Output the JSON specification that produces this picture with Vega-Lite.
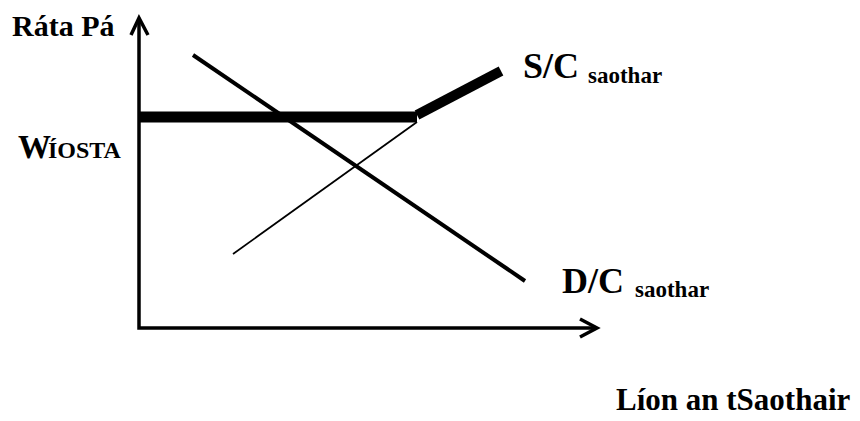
{
  "$schema": "https://vega.github.io/schema/vega-lite/v6.json",
  "width": 860,
  "height": 421,
  "padding": 0,
  "autosize": {"type": "none"},
  "background": "white",
  "config": {"view": {"stroke": null}},
  "datasets": {
    "segs": [
      {"seg": "axes", "kind": "axis", "o": 1, "x": 0, "y": 310},
      {"seg": "axes", "kind": "axis", "o": 2, "x": 0, "y": 0},
      {"seg": "axes", "kind": "axis", "o": 3, "x": 458, "y": 0},
      {"seg": "yarrow", "kind": "axis", "o": 1, "x": -8, "y": 293},
      {"seg": "yarrow", "kind": "axis", "o": 2, "x": 0, "y": 310},
      {"seg": "yarrow", "kind": "axis", "o": 3, "x": 9, "y": 293},
      {"seg": "xarrow", "kind": "axis", "o": 1, "x": 441, "y": 9},
      {"seg": "xarrow", "kind": "axis", "o": 2, "x": 458, "y": 0},
      {"seg": "xarrow", "kind": "axis", "o": 3, "x": 441, "y": -9},
      {"seg": "wmin", "kind": "min", "o": 1, "x": 0, "y": 211},
      {"seg": "wmin", "kind": "min", "o": 2, "x": 278, "y": 211},
      {"seg": "supplyThick", "kind": "supplyThick", "o": 1, "x": 278, "y": 213},
      {"seg": "supplyThick", "kind": "supplyThick", "o": 2, "x": 362, "y": 257},
      {"seg": "supplyThin", "kind": "supplyThin", "o": 1, "x": 94, "y": 74},
      {"seg": "supplyThin", "kind": "supplyThin", "o": 2, "x": 278, "y": 206},
      {"seg": "demand", "kind": "demand", "o": 1, "x": 54, "y": 273},
      {"seg": "demand", "kind": "demand", "o": 2, "x": 386, "y": 47}
    ],
    "labels": [
      {"text": "Ráta Pá", "role": "big", "x": -127, "y": 292},
      {"text": "W", "role": "w", "x": -121, "y": 170},
      {"text": "ÍOSTA", "role": "sub", "x": -91, "y": 170},
      {"text": "S/C", "role": "huge", "x": 384, "y": 250},
      {"text": "saothar", "role": "small", "x": 449, "y": 245},
      {"text": "D/C", "role": "huge", "x": 423, "y": 35},
      {"text": "saothar", "role": "small", "x": 496, "y": 31},
      {"text": "Líon an tSaothair", "role": "axis", "x": 477, "y": -82}
    ]
  },
  "layer": [
    {
      "data": {"name": "segs"},
      "mark": {"type": "line", "color": "black", "strokeCap": "butt", "strokeJoin": "miter", "clip": false},
      "encoding": {
        "x": {"field": "x", "type": "quantitative", "scale": {"domain": [-139, 721], "zero": false, "nice": false}, "axis": null},
        "y": {"field": "y", "type": "quantitative", "scale": {"domain": [-93, 328], "zero": false, "nice": false}, "axis": null},
        "detail": {"field": "seg", "type": "nominal"},
        "order": {"field": "o", "type": "quantitative"},
        "strokeWidth": {
          "field": "kind", "type": "nominal",
          "scale": {"type": "ordinal", "domain": ["axis", "min", "supplyThick", "supplyThin", "demand"], "range": [3.5, 11, 10, 1.8, 4]},
          "legend": null
        }
      }
    },
    {
      "data": {"name": "labels"},
      "mark": {"type": "text", "align": "left", "baseline": "alphabetic", "font": "Liberation Serif, Times New Roman, serif", "fontWeight": "bold", "color": "black", "clip": false},
      "encoding": {
        "x": {"field": "x", "type": "quantitative"},
        "y": {"field": "y", "type": "quantitative"},
        "text": {"field": "text", "type": "nominal"},
        "size": {
          "field": "role", "type": "nominal",
          "scale": {"type": "ordinal", "domain": ["big", "w", "sub", "huge", "small", "axis"], "range": [30, 33, 24, 36, 23, 31]},
          "legend": null
        }
      }
    }
  ]
}
